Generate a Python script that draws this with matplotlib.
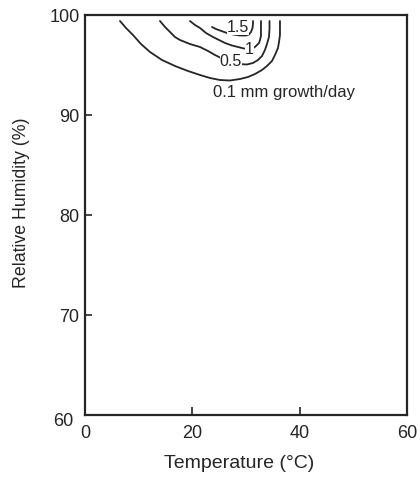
import matplotlib
matplotlib.use("Agg")
import matplotlib.pyplot as plt
from matplotlib.transforms import ScaledTranslation

plt.rcParams['font.family'] = ['Liberation Sans', 'DejaVu Sans']

# Contour lines (temperature °C, relative humidity %)
c01_T = [6.52, 7.64, 8.94, 10.43, 12.11, 14.35, 16.77, 19.19, 21.43, 23.29, 25.15,
         27.02, 28.88, 30.37, 31.68, 32.98, 33.91, 34.84, 35.40, 35.96, 36.15,
         36.33, 36.33, 36.33]
c01_RH = [99.4, 98.7, 98.0, 97.1, 96.3, 95.5, 94.9, 94.4, 94.0, 93.7, 93.5,
          93.45, 93.6, 93.8, 94.1, 94.5, 94.9, 95.4, 96.0, 96.7, 97.3,
          98.0, 98.7, 99.4]

c05_T = [13.97, 14.91, 15.84, 16.77, 17.70, 19.56, 21.43, 22.92, 24.22, 25.71,
         27.21, 28.69, 30.18, 31.30, 32.23, 32.98, 33.53, 33.91, 34.28, 34.38, 34.38]
c05_RH = [99.4, 98.8, 98.3, 97.8, 97.5, 97.1, 96.8, 96.4, 96.0, 95.6,
          95.3, 95.1, 95.05, 95.2, 95.5, 95.9, 96.5, 97.1, 97.8, 98.6, 99.4]

c1_T = [19.56, 20.50, 21.43, 22.55, 23.85, 24.97, 26.09, 27.39, 28.51, 29.63,
        30.56, 31.30, 31.86, 32.42, 32.61, 32.79, 32.79, 32.79]
c1_RH = [99.4, 99.0, 98.7, 98.2, 97.8, 97.5, 97.2, 96.95, 96.8, 96.65,
         96.6, 96.65, 96.9, 97.2, 97.5, 97.9, 98.7, 99.4]

c15_T = [23.66, 24.41, 25.15, 26.46, 27.58, 28.88, 30.00, 30.56, 30.93, 31.21, 31.30, 31.30]
c15_RH = [98.8, 98.6, 98.45, 98.2, 98.05, 97.95, 97.95, 98.05, 98.3, 98.7, 99.1, 99.4]

contours = [(c01_T, c01_RH), (c05_T, c05_RH), (c1_T, c1_RH), (c15_T, c15_RH)]

# inline labels (text, T, RH)
inline_labels = [("1.5", 28.5, 98.75), ("1", 30.6, 96.6), ("0.5", 27.2, 95.3)]
main_label = ("0.1 mm growth/day", 23.85, 92.3)

x_ticks = [0, 20, 40, 60]
y_ticks = [60, 70, 80, 90, 100]

fig = plt.figure(figsize=(4.2, 4.78), dpi=100)
ax = fig.add_axes([85/420, 1-415/478, (407-85)/420, (415-15)/478])

ink = '#252525'
for T, RH in contours:
    ax.plot(T, RH, color=ink, lw=1.3, solid_capstyle='round',
            solid_joinstyle='round', zorder=2)

for txt, t, rh in inline_labels:
    ax.text(t, rh, txt, fontsize=11.5, color=ink, ha='center', va='center', zorder=3,
            bbox=dict(facecolor='white', edgecolor='none', pad=0.0))

ax.text(main_label[1], main_label[2], main_label[0], fontsize=12, color=ink,
        ha='left', va='center')

ax.set_xlim(0, 60)
ax.set_ylim(60, 100)
ax.set_xticks(x_ticks)
ax.set_yticks(y_ticks)
ax.tick_params(direction='in', width=1.2, colors=ink, labelsize=13,
               top=False, right=False)
ax.tick_params(axis='x', pad=7, length=6)
ax.tick_params(axis='y', pad=4, length=5)
for s in ax.spines.values():
    s.set_linewidth(1.6)
    s.set_color(ink)

# the "60" at the corner sits a little left and below its tick
t60 = ax.yaxis.get_major_ticks()[0]
t60.label1.set_transform(t60.label1.get_transform() +
                         ScaledTranslation(-6/100, -5/100, fig.dpi_scale_trans))

ax.set_xlabel('Temperature (°C)', fontsize=14, color=ink)
ax.xaxis.set_label_coords(0.48, -0.1)
ax.set_ylabel('Relative Humidity (%)', fontsize=12.8, color=ink)
ax.yaxis.set_label_coords(-0.17, 0.53)

fig.savefig('out.png', dpi=100)
